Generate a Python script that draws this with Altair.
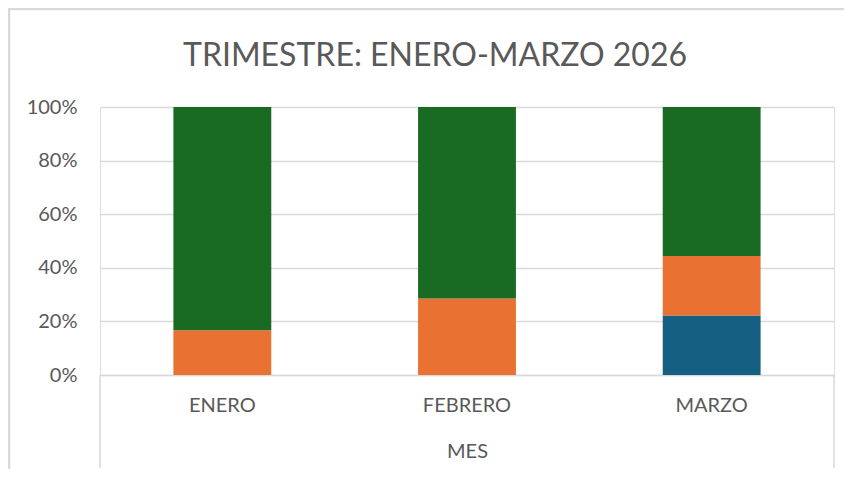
import altair as alt
import pandas as pd

titulo = "TRIMESTRE: ENERO-MARZO 2026"
meses = ["ENERO", "FEBRERO", "MARZO"]
series = ["Serie 1", "Serie 2", "Serie 3"]
serie1 = [0, 0, 2]   # azul
serie2 = [1, 2, 2]   # naranja
serie3 = [5, 5, 5]   # verde
colores = ["#156082", "#E97132", "#196B24"]
y_ticks = [0, 0.2, 0.4, 0.6, 0.8, 1.0]

rows = []
for i, m in enumerate(meses):
    for k, (s, vals) in enumerate(zip(series, [serie1, serie2, serie3])):
        rows.append({"MES": m, "serie": s, "valor": vals[i], "orden": k})
df = pd.DataFrame(rows)

FONT = "Lato"
GRAY = "#595959"
GRID = "#d9d9d9"
W, H = 734, 268

bars = alt.Chart(df).mark_bar().encode(
    x=alt.X(
        "MES:N",
        sort=meses,
        scale=alt.Scale(paddingInner=0.6, paddingOuter=0.3),
        axis=alt.Axis(
            labelAngle=0, ticks=False, domainColor=GRID, domainWidth=1.5,
            labelFont=FONT, labelFontSize=20, labelColor=GRAY, labelPadding=20,
            title="MES", titleFont=FONT, titleFontSize=20, titleFontWeight="normal",
            titleColor=GRAY, titlePadding=26,
        ),
    ),
    y=alt.Y(
        "valor:Q",
        stack="normalize",
        scale=alt.Scale(domain=[0, 1]),
        axis=alt.Axis(
            format="%", values=y_ticks, title=None, ticks=False, domain=False,
            labelFont=FONT, labelFontSize=20, labelColor=GRAY, labelPadding=23,
            gridColor=GRID, gridWidth=1.5,
        ),
    ),
    color=alt.Color("serie:N", scale=alt.Scale(domain=series, range=colores), legend=None),
    order=alt.Order("orden:Q", sort="ascending"),
)

deco = pd.DataFrame({"k": [0]})
left_sep = alt.Chart(deco).mark_rule(color=GRID, strokeWidth=1.5).encode(
    x=alt.value(0), y=alt.value(H), y2=alt.value(361))
right_sep = alt.Chart(deco).mark_rule(color=GRID, strokeWidth=1.5).encode(
    x=alt.value(W), y=alt.value(H), y2=alt.value(361))
top_border = alt.Chart(deco).mark_rule(color=GRID, strokeWidth=2.5).encode(
    x=alt.value(-92), x2=alt.value(W + 30), y=alt.value(-98))
left_border = alt.Chart(deco).mark_rule(color=GRID, strokeWidth=2.5).encode(
    x=alt.value(-91), y=alt.value(-99), y2=alt.value(H + 100))
title_text = alt.Chart(deco).mark_text(
    text=titulo, font=FONT, fontSize=32, color=GRAY, align="center", baseline="alphabetic"
).encode(x=alt.value(W / 2 - 32), y=alt.value(-41))

chart = alt.layer(bars, left_sep, right_sep, top_border, left_border, title_text).properties(
    width=W,
    height=H,
    padding={"left": 92, "top": 99, "right": 10, "bottom": 94},
    autosize=alt.AutoSizeParams(type="none"),
).configure_view(stroke=None).configure(background="white")

chart.save("out.html", embed_options={"renderer": "svg", "actions": False})
